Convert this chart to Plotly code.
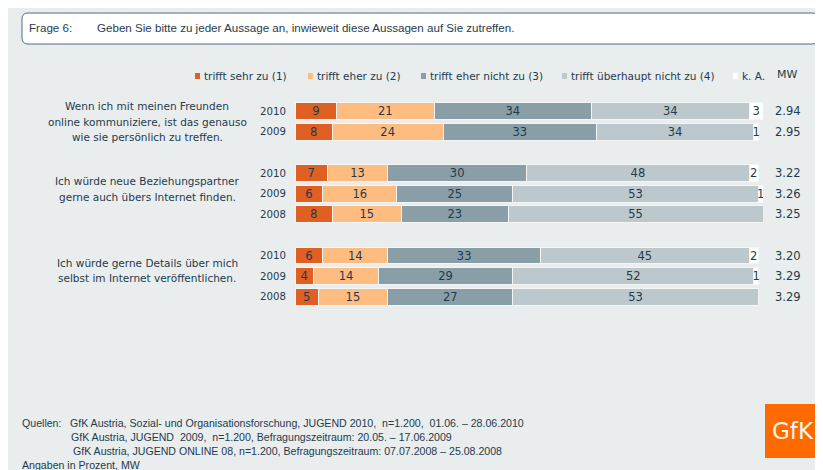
import plotly.graph_objects as go

# ---------------- data ----------------
categories = ["trifft sehr zu (1)", "trifft eher zu (2)", "trifft eher nicht zu (3)",
              "trifft überhaupt nicht zu (4)", "k. A."]
questions = [
    ["Wenn ich mit meinen Freunden", "online kommuniziere, ist das genauso", "wie sie persönlich zu treffen."],
    ["Ich würde neue Beziehungspartner", "gerne auch übers Internet finden."],
    ["Ich würde gerne Details über mich", "selbst im Internet veröffentlichen."],
]
years_per_question = [["2010", "2009"], ["2010", "2009", "2008"], ["2010", "2009", "2008"]]

sehr_zu = [9, 8, 7, 6, 8, 6, 4, 5]
eher_zu = [21, 24, 13, 16, 15, 14, 14, 15]
eher_nicht_zu = [34, 33, 30, 25, 23, 33, 29, 27]
ueberhaupt_nicht_zu = [34, 34, 48, 53, 55, 45, 52, 53]
keine_angabe = [3, 1, 2, 1, None, 2, 1, None]
mw = ["2.94", "2.95", "3.22", "3.26", "3.25", "3.20", "3.29", "3.29"]

series = [sehr_zu, eher_zu, eher_nicht_zu, ueberhaupt_nicht_zu, keine_angabe]
colors = ["#E05F22", "#FFBC80", "#8A9EA8", "#BCC8CC", "#FFFFFF"]

title_label = "Frage 6:"
title_text = "Geben Sie bitte zu jeder Aussage an, inwieweit diese Aussagen auf Sie zutreffen."
footer_label = "Quellen:"
footer_sources = [
    "GfK Austria, Sozial- und Organisationsforschung, JUGEND 2010,  n=1.200,  01.06. – 28.06.2010",
    "GfK Austria, JUGEND  2009,  n=1.200, Befragungszeitraum: 20.05. – 17.06.2009",
    "GfK Austria, JUGEND ONLINE 08, n=1.200, Befragungszeitraum: 07.07.2008 – 25.08.2008",
]
footer_note = "Angaben in Prozent, MW"

# ---------------- layout helpers ----------------
FIG_W, FIG_H = 823, 470
OFF = 8                      # page body margin
L, T, W, H = 287, 93, 468, 206
NAVY = "#1F3B4D"
BG = "#E9EDEE"
FONT = "DejaVu Sans"
NARROW = "Liberation Sans, Arial, sans-serif"


def px(x_page):
    return (x_page - OFF - L) / W


def py(y_page):
    return 1 - (y_page - OFF - T) / H


# row positions: one row per year, one blank row between question groups
positions, years, group_centers = [], [], []
k = 0
for yrs in years_per_question:
    start = k
    for yr in yrs:
        positions.append(k)
        years.append(yr)
        k += 1
    group_centers.append((start + k - 1) / 2)
    k += 1

fig = go.Figure()
for name, vals, col in zip(categories, series, colors):
    fig.add_trace(go.Bar(
        y=positions, x=vals, orientation="h", name=name,
        marker=dict(color=col, line=dict(color="#F4F6F6", width=1)),
        width=0.82,
        text=[("" if v is None else str(v)) for v in vals],
        textposition="inside", insidetextanchor="middle", constraintext="none",
        textangle=0,
        textfont=dict(family=FONT, size=11.5, color=NAVY),
        hoverinfo="skip", showlegend=False,
    ))

annotations = []
shapes = []

# rounded title box
x0, x1, y0, y1, r = px(22), px(818), py(13), py(44), 6
rx, ry = r / W, r / H
path = (f"M{x0+rx},{y0} L{x1-rx},{y0} Q{x1},{y0} {x1},{y0-ry} L{x1},{y1+ry} Q{x1},{y1} {x1-rx},{y1} "
        f"L{x0+rx},{y1} Q{x0},{y1} {x0},{y1+ry} L{x0},{y0-ry} Q{x0},{y0} {x0+rx},{y0} Z")
shapes.append(dict(type="path", xref="paper", yref="paper", path=path, fillcolor="white",
                   line=dict(color="#4F6E84", width=1), layer="below"))
annotations.append(dict(x=px(27), y=py(28), xref="paper", yref="paper", text=title_label,
                        showarrow=False, xanchor="left", yanchor="middle",
                        font=dict(family=NARROW, size=11.6, color=NAVY)))
annotations.append(dict(x=px(95), y=py(28), xref="paper", yref="paper", text=title_text,
                        showarrow=False, xanchor="left", yanchor="middle",
                        font=dict(family=NARROW, size=11.6, color=NAVY)))

# legend
legend_x = [195, 308, 421, 562, 733]
for name, col, lx in zip(categories, colors, legend_x):
    shapes.append(dict(type="rect", xref="paper", yref="paper", x0=px(lx), x1=px(lx + 5),
                       y0=py(73), y1=py(79), fillcolor=col, line=dict(width=0)))
    annotations.append(dict(x=px(lx + 7), y=py(76), xref="paper", yref="paper", text=name,
                            showarrow=False, xanchor="left", yanchor="middle",
                            font=dict(family=FONT, size=10.5, color=NAVY)))
annotations.append(dict(x=px(787), y=py(74), xref="paper", yref="paper", text="MW",
                        showarrow=False, xanchor="center", yanchor="middle",
                        font=dict(family=FONT, size=11, color=NAVY)))

# question labels (one annotation per line)
LINE = 15.5
for lines, c, shift in zip(questions, group_centers, [0, 4.7, 5.7]):
    n = len(lines)
    for i, line in enumerate(lines):
        annotations.append(dict(x=px(147), y=c, xref="paper", yref="y", text=line, showarrow=False,
                                xanchor="center", yanchor="middle", align="center",
                                yshift=shift + ((n - 1) / 2 - i) * LINE,
                                font=dict(family=FONT, size=10.5, color=NAVY)))

# mean values
for p, m in zip(positions, mw):
    annotations.append(dict(x=px(788), y=p, xref="paper", yref="y", text=m, showarrow=False,
                            xanchor="center", yanchor="middle",
                            font=dict(family=FONT, size=11.5, color=NAVY)))

# footer
annotations.append(dict(x=px(20), y=py(423), xref="paper", yref="paper", text=footer_label,
                        showarrow=False, xanchor="left", yanchor="middle",
                        font=dict(family=NARROW, size=10.6, color=NAVY)))
for i, (src, fx) in enumerate(zip(footer_sources, [68, 69, 71])):
    annotations.append(dict(x=px(fx), y=py(423 + 14 * i), xref="paper", yref="paper", text=src,
                            showarrow=False, xanchor="left", yanchor="middle",
                            font=dict(family=NARROW, size=10.6, color=NAVY)))
annotations.append(dict(x=px(20), y=py(465), xref="paper", yref="paper", text=footer_note,
                        showarrow=False, xanchor="left", yanchor="middle",
                        font=dict(family=NARROW, size=10.6, color=NAVY)))

# GfK logo
shapes.append(dict(type="rect", xref="paper", yref="paper", x0=px(765), x1=px(821),
                   y0=py(404), y1=py(458), fillcolor="#FF6A00", line=dict(width=0)))
annotations.append(dict(x=px(793), y=py(431), xref="paper", yref="paper", text="GfK",
                        showarrow=False, xanchor="center", yanchor="middle",
                        font=dict(family="DejaVu Sans", size=23, color="#FFF4E8")))

fig.update_layout(
    width=FIG_W, height=FIG_H,
    margin=dict(l=L, r=FIG_W - L - W, t=T, b=FIG_H - T - H, pad=0),
    barmode="stack",
    paper_bgcolor=BG, plot_bgcolor="rgba(0,0,0,0)",
    xaxis=dict(range=[0, 101], visible=False, fixedrange=True),
    yaxis=dict(range=[max(positions) + 0.5, -0.5], tickvals=positions, ticktext=years,
               showgrid=False, zeroline=False, showline=False, ticks="",
               ticklabelstandoff=8,
               tickfont=dict(family=FONT, size=10.2, color=NAVY), fixedrange=True),
    shapes=shapes, annotations=annotations,
    font=dict(family=FONT, color=NAVY),
)

fig.write_html("out.html")
